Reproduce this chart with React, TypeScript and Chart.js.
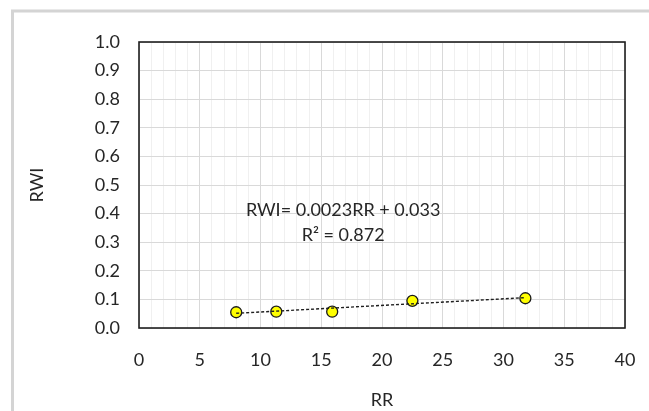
import React, { useEffect, useRef } from "react";
import { Chart, registerables } from "chart.js";

Chart.register(...registerables);

// Measured samples: RR (x) against RWI (y)
const rrValues = [8.0, 11.3, 15.9, 22.5, 31.8];
const rwiValues = [0.055, 0.057, 0.057, 0.095, 0.104];

// Linear fit shown on the chart
const fitSlope = 0.0023;
const fitIntercept = 0.033;
const fitLabel = "RWI= 0.0023RR + 0.033";
const r2Label = "R\u00B2 = 0.872";

// Axis settings
const xAxisTitle = "RR";
const yAxisTitle = "RWI";
const xMin = 0;
const xMax = 40;
const xMajorStep = 5;
const yMin = 0;
const yMax = 1.0;
const yStep = 0.1;

const FONT = "Lato";
const TEXT = "#262626";

const frameAndLabels = {
  id: "frameAndLabels",
  beforeDraw(chart: any) {
    const ctx = chart.ctx;
    ctx.save();
    ctx.strokeStyle = "#d4d4d4";
    ctx.lineWidth = 3;
    ctx.strokeRect(12.5, 11, 1000, 1000);
    ctx.restore();
  },
  afterDraw(chart: any) {
    const { ctx, chartArea, scales } = chart;
    ctx.save();
    ctx.strokeStyle = "#1f1f1f";
    ctx.lineWidth = 1.6;
    ctx.strokeRect(chartArea.left, chartArea.top, chartArea.right - chartArea.left, chartArea.bottom - chartArea.top);

    ctx.fillStyle = TEXT;
    ctx.font = `18px ${FONT}`;
    ctx.textAlign = "center";
    ctx.textBaseline = "middle";
    const cx = scales.x.getPixelForValue(16.8);
    ctx.fillText(fitLabel, cx, scales.y.getPixelForValue(0.413));
    ctx.fillText(r2Label, cx, scales.y.getPixelForValue(0.325));
    ctx.restore();
  },
};

export default function App() {
  const canvasRef = useRef<HTMLCanvasElement | null>(null);

  useEffect(() => {
    const canvas = canvasRef.current;
    if (!canvas) return;

    const points = rrValues.map((x, i) => ({ x, y: rwiValues[i] }));
    const xFirst = rrValues[0];
    const xLast = rrValues[rrValues.length - 1];
    const fitLine = [
      { x: xFirst, y: fitSlope * xFirst + fitIntercept },
      { x: xLast, y: fitSlope * xLast + fitIntercept },
    ];

    const chart = new Chart(canvas, {
      type: "scatter",
      data: {
        datasets: [
          {
            label: "Fit",
            data: fitLine,
            showLine: true,
            borderColor: "#1f1f1f",
            borderWidth: 1.4,
            borderDash: [3, 2],
            pointRadius: 0,
            order: 0,
          },
          {
            label: "RWI",
            data: points,
            backgroundColor: "#ffff00",
            borderColor: "#1a1a1a",
            borderWidth: 1.3,
            pointRadius: 5.5,
            order: 1,
          },
        ],
      },
      options: {
        responsive: false,
        animation: false,
        events: [],
        layout: { padding: { left: 0, top: 42, right: 24, bottom: 0 } },
        plugins: {
          legend: { display: false },
          tooltip: { enabled: false },
          title: { display: false },
        },
        scales: {
          x: {
            type: "linear",
            min: xMin,
            max: xMax,
            afterFit(scale: any) {
              scale.height = 83;
              scale.paddingLeft = 0;
              scale.paddingRight = 0;
            },
            border: { display: false },
            grid: {
              drawTicks: false,
              lineWidth: 1,
              color: (c: any) => (c.tick && c.tick.value % xMajorStep === 0 ? "#d9d9d9" : "#f0f0f0"),
            },
            ticks: {
              stepSize: 1,
              autoSkip: false,
              maxRotation: 0,
              padding: 21,
              color: TEXT,
              font: { family: FONT, size: 18 },
              callback: (v: any) => (Number(v) % xMajorStep === 0 ? String(v) : ""),
            },
            title: {
              display: true,
              text: xAxisTitle,
              color: TEXT,
              font: { family: FONT, size: 18 },
              padding: { top: 0, bottom: 0 },
            },
          },
          y: {
            type: "linear",
            min: yMin,
            max: yMax,
            afterFit(scale: any) {
              scale.width = 139;
              scale.paddingTop = 0;
              scale.paddingBottom = 0;
            },
            border: { display: false },
            grid: { drawTicks: false, lineWidth: 1, color: "#d9d9d9" },
            ticks: {
              stepSize: yStep,
              padding: 19,
              color: TEXT,
              font: { family: FONT, size: 18 },
              callback: (v: any) => Number(v).toFixed(1),
            },
            title: {
              display: true,
              text: yAxisTitle,
              color: TEXT,
              font: { family: FONT, size: 18 },
              padding: { top: 26, bottom: 0 },
            },
          },
        },
      },
      plugins: [frameAndLabels],
    });

    return () => chart.destroy();
  }, []);

  return (
    <div style={{ position: "fixed", left: 0, top: 0, width: 649, height: 411, background: "#ffffff" }}>
      <canvas ref={canvasRef} width={649} height={411} style={{ display: "block" }} />
    </div>
  );
}
